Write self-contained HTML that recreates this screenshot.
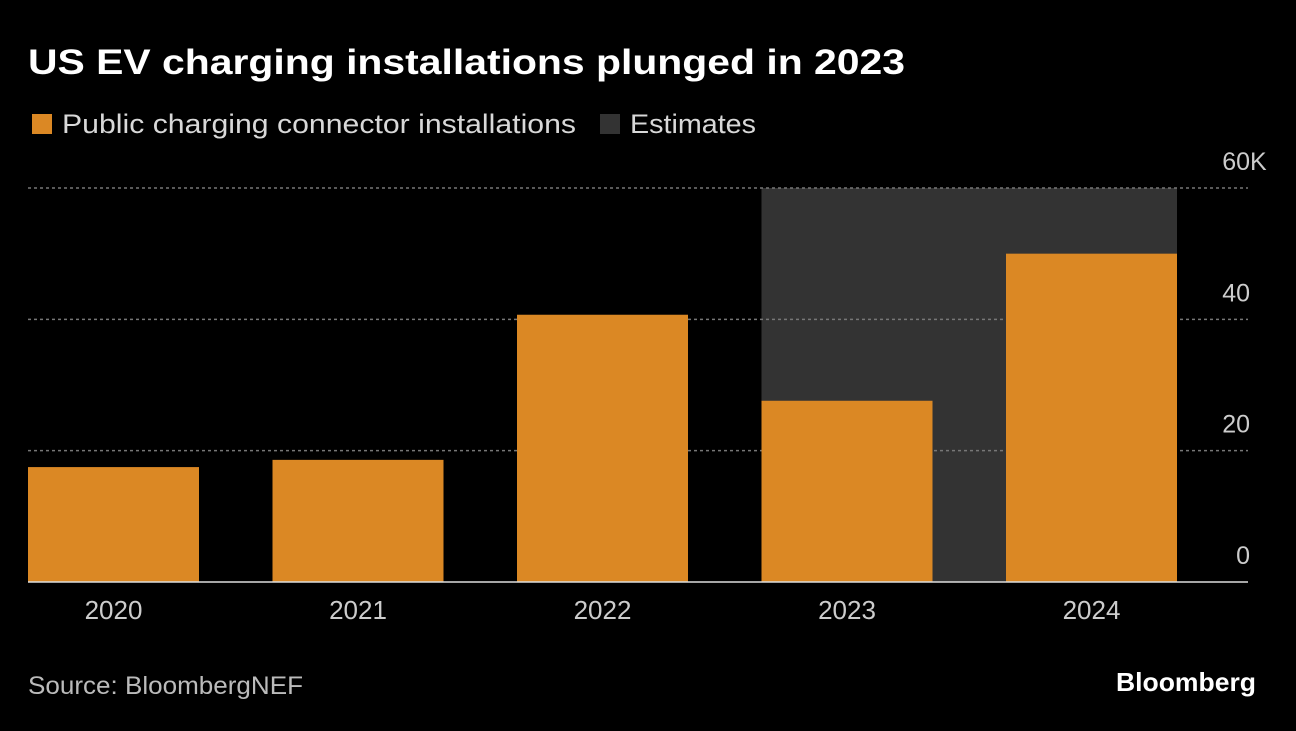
<!DOCTYPE html>
<html><head><meta charset="utf-8"><style>
body{margin:0;background:#000;width:1296px;height:726px;overflow:hidden;font-family:"Liberation Sans",sans-serif;color:#e6e6e6}
</style></head><body>
<svg id="chart" width="1296" height="726" xmlns="http://www.w3.org/2000/svg">
<text x="28" y="74" font-size="35" font-weight="bold" fill="#fff" textLength="877" lengthAdjust="spacingAndGlyphs">US EV charging installations plunged in 2023</text>
<g>
<rect x="32" y="114" width="20" height="20" fill="#db8824"/>
<text x="62" y="133" font-size="27" fill="#d8d8d8" textLength="514" lengthAdjust="spacingAndGlyphs">Public charging connector installations</text>
<rect x="600" y="114" width="20" height="20" fill="#333"/>
<text x="630" y="133" font-size="27" fill="#d8d8d8" textLength="126" lengthAdjust="spacingAndGlyphs">Estimates</text>
</g>
<g id="plot"></g>
<text x="28" y="694" font-size="25" fill="#bbb" textLength="275" lengthAdjust="spacingAndGlyphs">Source: BloombergNEF</text>
<text x="1116" y="691" font-size="26" font-weight="bold" fill="#fff" textLength="140" lengthAdjust="spacingAndGlyphs">Bloomberg</text>
</svg>
<script>
const categories=["2020","2021","2022","2023","2024"];
const installs=[17.5,18.6,40.7,27.6,50.0];
const estimateCats=["2023","2024"];
const yTicks=[0,20,40,60];
const yTickLabels=["0","20","40","60"];
const yTickSuffix=["","","","K"];
const NS="http://www.w3.org/2000/svg";
const g=document.getElementById('plot');
const x0=28,band=244.5,bw=171,base=582,plotTop=188,yMax=60;
const y=v=>base-(base-plotTop)*v/yMax;
const xb=i=>x0+i*band;
function mk(t,a){const e=document.createElementNS(NS,t);for(const k in a)e.setAttribute(k,a[k]);g.appendChild(e);return e;}
const i0=categories.indexOf(estimateCats[0]),i1=categories.indexOf(estimateCats[estimateCats.length-1]);
const sh=mk('rect',{x:xb(i0),y:y(yMax),width:xb(i1)+bw-xb(i0),height:base-y(yMax),fill:'#333'});


yTicks.forEach((t,i)=>{
 if(t>0){const l=mk('line',{x1:28,x2:1248,y1:y(t),y2:y(t),stroke:'#777','stroke-width':1.5,'stroke-dasharray':'3,3'});
 
 }
 const tx=mk('text',{x:1250,y:y(t)-18,'font-size':25,fill:'#ccc','text-anchor':'end'});
 tx.textContent=yTickLabels[i];
 
 
 if(yTickSuffix[i]){
  const s=mk('text',{x:1250,y:y(t)-18,'font-size':25,fill:'#ccc'});
  s.textContent=yTickSuffix[i];
  
  
 }
});
categories.forEach((c,i)=>{
 const r=mk('rect',{x:xb(i),y:y(installs[i]),width:bw,height:base-y(installs[i]),fill:'#db8824'});
 
 
 const t=mk('text',{x:xb(i)+bw/2,y:619,'font-size':26,fill:'#ccc','text-anchor':'middle'});
 t.textContent=c;
 
 
});
const ax=mk('line',{x1:28,x2:1248,y1:base,y2:base,stroke:'#ddd','stroke-width':1.5});


</script>
</body></html>
